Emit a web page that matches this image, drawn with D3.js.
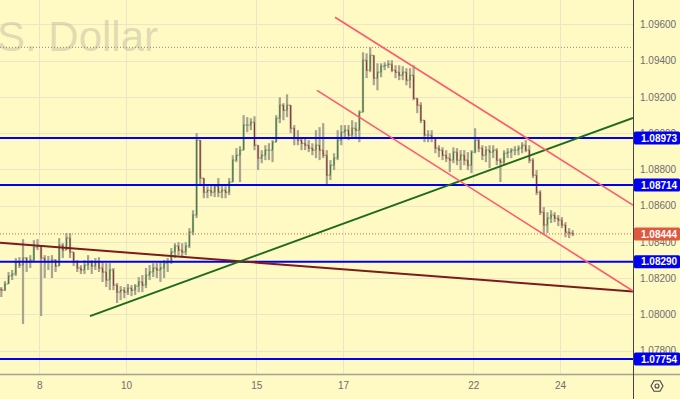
<!DOCTYPE html>
<html>
<head>
<meta charset="utf-8">
<script src="https://cdn.jsdelivr.net/npm/d3@7"></script>
<style>
  body { margin: 0; background: #fff9c4; }
  svg { display: block; font-family: "Liberation Sans", Arial, sans-serif; }
</style>
</head>
<body>
<svg id="chart" width="680" height="399"></svg>
<script>
// 2-hour bars, EURUSD
const highs = [
  1.08151, 1.08184, 1.08234, 1.08245, 1.08311, 1.08316, 1.08415, 1.08316, 1.08327, 1.08410,
  1.08415, 1.08366, 1.08327, 1.08322, 1.08327, 1.08305, 1.08421, 1.08393, 1.08449, 1.08449,
  1.08344, 1.08300, 1.08272, 1.08300, 1.08327, 1.08300, 1.08311, 1.08316, 1.08289, 1.08283,
  1.08283, 1.08256, 1.08173, 1.08156, 1.08151, 1.08168, 1.08162, 1.08168, 1.08206, 1.08217,
  1.08256, 1.08272, 1.08283, 1.08283, 1.08289, 1.08300, 1.08311, 1.08366, 1.08393, 1.08399,
  1.08393, 1.08399, 1.08476, 1.08575, 1.09000, 1.08867, 1.08741, 1.08707, 1.08713, 1.08719,
  1.08752, 1.08713, 1.08707, 1.08752, 1.08878, 1.08917, 1.08928, 1.09099, 1.09088, 1.09082,
  1.09093, 1.08933, 1.08906, 1.08933, 1.08944, 1.08961, 1.09099, 1.09198, 1.09165, 1.09214,
  1.09154, 1.09044, 1.09016, 1.08977, 1.08972, 1.08961, 1.08944, 1.09016, 1.09033, 1.09055,
  1.08906, 1.08851, 1.08889, 1.09016, 1.09044, 1.09044, 1.09044, 1.09071, 1.09060, 1.09126,
  1.09446, 1.09440, 1.09473, 1.09429, 1.09385, 1.09385, 1.09391, 1.09402, 1.09402, 1.09374,
  1.09374, 1.09369, 1.09358, 1.09358, 1.09374, 1.09192, 1.09170, 1.09071, 1.09016, 1.09016,
  1.08972, 1.08933, 1.08922, 1.08906, 1.08889, 1.08922, 1.08917, 1.08906, 1.08906, 1.08895,
  1.08906, 1.09027, 1.08972, 1.08933, 1.08928, 1.08933, 1.08933, 1.08917, 1.08862, 1.08906,
  1.08917, 1.08917, 1.08928, 1.08933, 1.08950, 1.08961, 1.08933, 1.08862, 1.08796, 1.08685,
  1.08592, 1.08564, 1.08575, 1.08564, 1.08548, 1.08537, 1.08509, 1.08476, 1.08465
];
const lows = [
  1.08096, 1.08129, 1.08173, 1.08190, 1.08212, 1.08256, 1.07947, 1.08234, 1.08256, 1.08289,
  1.08355, 1.07991, 1.08201, 1.08245, 1.08201, 1.08234, 1.08267, 1.08311, 1.08355, 1.08311,
  1.08267, 1.08234, 1.08223, 1.08223, 1.08245, 1.08223, 1.08245, 1.08234, 1.08179, 1.08151,
  1.08134, 1.08134, 1.08063, 1.08079, 1.08090, 1.08107, 1.08101, 1.08107, 1.08123, 1.08123,
  1.08145, 1.08190, 1.08206, 1.08201, 1.08179, 1.08201, 1.08234, 1.08278, 1.08311, 1.08327,
  1.08322, 1.08327, 1.08366, 1.08437, 1.08531, 1.08713, 1.08641, 1.08641, 1.08652, 1.08647,
  1.08647, 1.08641, 1.08641, 1.08658, 1.08730, 1.08840, 1.08730, 1.08906, 1.09005, 1.09016,
  1.08906, 1.08796, 1.08834, 1.08851, 1.08851, 1.08840, 1.08950, 1.09055, 1.09071, 1.09088,
  1.09000, 1.08933, 1.08933, 1.08906, 1.08906, 1.08895, 1.08878, 1.08862, 1.08851, 1.08862,
  1.08713, 1.08741, 1.08796, 1.08851, 1.08933, 1.08972, 1.08961, 1.08977, 1.08972, 1.08950,
  1.09115, 1.09303, 1.09336, 1.09264, 1.09236, 1.09308, 1.09347, 1.09358, 1.09336, 1.09303,
  1.09292, 1.09292, 1.09264, 1.09247, 1.09181, 1.09110, 1.09055, 1.08950, 1.08950, 1.08950,
  1.08889, 1.08867, 1.08851, 1.08840, 1.08785, 1.08834, 1.08823, 1.08796, 1.08823, 1.08796,
  1.08779, 1.08889, 1.08895, 1.08851, 1.08840, 1.08807, 1.08862, 1.08823, 1.08730, 1.08823,
  1.08862, 1.08862, 1.08878, 1.08878, 1.08889, 1.08895, 1.08834, 1.08752, 1.08658, 1.08548,
  1.08437, 1.08449, 1.08504, 1.08509, 1.08487, 1.08476, 1.08426, 1.08421, 1.08432
];
const closes = [
  1.08134, 1.08168, 1.08212, 1.08223, 1.08289, 1.08272, 1.08311, 1.08289, 1.08300, 1.08371,
  1.08377, 1.08311, 1.08289, 1.08289, 1.08300, 1.08267, 1.08382, 1.08355, 1.08421, 1.08344,
  1.08289, 1.08256, 1.08245, 1.08272, 1.08289, 1.08267, 1.08289, 1.08256, 1.08234, 1.08190,
  1.08245, 1.08162, 1.08123, 1.08134, 1.08123, 1.08145, 1.08134, 1.08156, 1.08179, 1.08162,
  1.08217, 1.08234, 1.08256, 1.08245, 1.08256, 1.08283, 1.08289, 1.08344, 1.08377, 1.08355,
  1.08344, 1.08377, 1.08454, 1.08548, 1.08961, 1.08752, 1.08674, 1.08685, 1.08674, 1.08707,
  1.08674, 1.08685, 1.08674, 1.08730, 1.08851, 1.08878, 1.08906, 1.09044, 1.09044, 1.09060,
  1.08933, 1.08862, 1.08878, 1.08906, 1.08906, 1.08950, 1.09082, 1.09154, 1.09126, 1.09154,
  1.09027, 1.08972, 1.08961, 1.08944, 1.08933, 1.08917, 1.08906, 1.08933, 1.08906, 1.08878,
  1.08768, 1.08823, 1.08862, 1.08961, 1.09005, 1.09016, 1.08989, 1.09027, 1.09016, 1.09115,
  1.09402, 1.09347, 1.09429, 1.09303, 1.09336, 1.09369, 1.09374, 1.09380, 1.09347, 1.09336,
  1.09319, 1.09336, 1.09292, 1.09319, 1.09192, 1.09154, 1.09071, 1.08989, 1.08989, 1.08972,
  1.08917, 1.08906, 1.08878, 1.08862, 1.08851, 1.08895, 1.08851, 1.08878, 1.08851, 1.08823,
  1.08895, 1.08961, 1.08917, 1.08878, 1.08906, 1.08895, 1.08906, 1.08851, 1.08840, 1.08889,
  1.08895, 1.08906, 1.08906, 1.08917, 1.08933, 1.08906, 1.08851, 1.08768, 1.08674, 1.08564,
  1.08493, 1.08531, 1.08548, 1.08531, 1.08520, 1.08493, 1.08454, 1.08449, 1.08444
];
const firstOpen = 1.08140;
const barsPerDay = 12;
const firstBarOffset = -10.5;  // first bar sits 10.5 bars before the start of day 8

// trading-day index: 0 = 8th, 2 = 10th, 5 = 15th ...
const dayTicks = [0, 2, 5, 7, 10, 12];
const dayLabels = ["8", "10", "15", "17", "22", "24"];
const priceTicks = [1.078, 1.080, 1.082, 1.084, 1.086, 1.088, 1.090, 1.092, 1.094, 1.096];

const levels = [1.08973, 1.08714, 1.08290, 1.07754];
const lastPrice = 1.08444;
const sessionHigh = 1.09473;

// [trading day, price] end points
const supportLine = [[1.168, 1.07991], [13.68, 1.09084]];
const longTrend = [[-0.906, 1.08395], [13.68, 1.08126]];
const channelTop = [[6.813, 1.09639], [13.68, 1.08603]];
const channelBottom = [[6.399, 1.09236], [13.68, 1.08129]];

const svg = d3.select("#chart");
const W = 680, H = 399, plotW = 633, plotH = 374;

const x = d3.scaleLinear().domain([-0.9055, 13.68]).range([0, plotW]);
const y = d3.scaleLinear().domain([1.078, 1.096]).range([350.7, 24.3]);

svg.append("rect").attr("width", W).attr("height", H).attr("fill", "#fff9c4");

svg.append("defs").append("clipPath").attr("id", "plot")
  .append("rect").attr("width", plotW).attr("height", plotH);

// grid
const grid = svg.append("g").attr("stroke", "#ece6c6").attr("stroke-width", 1);
grid.selectAll("line.h").data(priceTicks).join("line")
  .attr("x1", 0).attr("x2", plotW)
  .attr("y1", d => Math.round(y(d)) + 0.5).attr("y2", d => Math.round(y(d)) + 0.5);
grid.selectAll("line.v").data(dayTicks).join("line")
  .attr("y1", 0).attr("y2", plotH)
  .attr("x1", d => Math.round(x(d)) + 0.5).attr("x2", d => Math.round(x(d)) + 0.5);

// watermark
svg.append("text")
  .attr("x", 158).attr("y", 51)
  .attr("text-anchor", "end")
  .attr("font-size", 42)
  .attr("fill", "#b9b59c").attr("fill-opacity", 0.45)
  .text("Euro / U.S. Dollar");

const plot = svg.append("g").attr("clip-path", "url(#plot)");

// session high dotted line
plot.append("line")
  .attr("x1", 0).attr("x2", plotW)
  .attr("y1", y(sessionHigh)).attr("y2", y(sessionHigh))
  .attr("stroke", "#8a8a80").attr("stroke-width", 1).attr("stroke-dasharray", "1,2");

// bars
const bars = closes.map((c, i) => ({
  t: (i + firstBarOffset) / barsPerDay,
  o: i === 0 ? firstOpen : closes[i - 1],
  h: highs[i], l: lows[i], c: c
}));

const barG = plot.append("g");
barG.selectAll("line.hl").data(bars).join("line")
  .attr("x1", d => x(d.t)).attr("x2", d => x(d.t))
  .attr("y1", d => y(Math.max(d.h, d.o, d.c))).attr("y2", d => y(Math.min(d.l, d.o, d.c)))
  .attr("stroke", "#a7a590").attr("stroke-width", 2.2);
barG.selectAll("line.oc").data(bars).join("line")
  .attr("x1", d => x(d.t)).attr("x2", d => x(d.t))
  .attr("y1", d => y(d.o)).attr("y2", d => y(d.c) + (d.c >= d.o ? -0.5 : 0.5))
  .attr("stroke", d => d.c >= d.o ? "#3d7a3a" : "#8c2f2a").attr("stroke-width", 1);
barG.selectAll("line.op").data(bars).join("line")
  .attr("x1", d => x(d.t) - 1.6).attr("x2", d => x(d.t))
  .attr("y1", d => y(d.o)).attr("y2", d => y(d.o))
  .attr("stroke", d => d.c >= d.o ? "#6f9a68" : "#a86a5f").attr("stroke-width", 1);
barG.selectAll("line.cl").data(bars).join("line")
  .attr("x1", d => x(d.t)).attr("x2", d => x(d.t) + 1.6)
  .attr("y1", d => y(d.c)).attr("y2", d => y(d.c))
  .attr("stroke", d => d.c >= d.o ? "#6f9a68" : "#a86a5f").attr("stroke-width", 1);

// current price dotted line
plot.append("line")
  .attr("x1", 0).attr("x2", plotW)
  .attr("y1", y(lastPrice)).attr("y2", y(lastPrice))
  .attr("stroke", "#e8604c").attr("stroke-width", 1).attr("stroke-dasharray", "1,2");

// horizontal levels
plot.selectAll("line.level").data(levels).join("line")
  .attr("x1", 0).attr("x2", plotW)
  .attr("y1", d => y(d)).attr("y2", d => y(d))
  .attr("stroke", "#0000f0").attr("stroke-width", 2);

// trend lines
function drawTrend(pts, color, width) {
  plot.append("line")
    .attr("x1", x(pts[0][0])).attr("y1", y(pts[0][1]))
    .attr("x2", x(pts[1][0])).attr("y2", y(pts[1][1]))
    .attr("stroke", color).attr("stroke-width", width);
}
drawTrend(longTrend, "#7a1c1c", 2);
drawTrend(supportLine, "#1e6b1e", 2);
drawTrend(channelTop, "#ff5a6a", 1.6);
drawTrend(channelBottom, "#ff5a6a", 1.6);

// axes frame
svg.append("line").attr("x1", 0).attr("x2", W).attr("y1", plotH + 0.5).attr("y2", plotH + 0.5)
  .attr("stroke", "#a4a290").attr("stroke-width", 1.5);
svg.append("line").attr("x1", plotW + 0.5).attr("x2", plotW + 0.5).attr("y1", 0).attr("y2", H)
  .attr("stroke", "#444").attr("stroke-width", 1);

// price axis
const yAxis = svg.append("g")
  .attr("transform", `translate(${plotW},0)`)
  .call(d3.axisRight(y).tickValues(priceTicks).tickFormat(d3.format(".5f")).tickSize(0).tickPadding(7));
yAxis.select(".domain").remove();
yAxis.selectAll("text").attr("fill", "#6e6e6e").attr("font-size", 10)
  .attr("font-family", "'Liberation Sans', Arial, sans-serif");

// time axis
const xAxis = svg.append("g")
  .attr("transform", `translate(0,${plotH})`)
  .call(d3.axisBottom(x).tickValues(dayTicks).tickFormat((d, i) => dayLabels[i]).tickSize(0).tickPadding(8));
xAxis.select(".domain").remove();
xAxis.selectAll("text").attr("fill", "#6e6e6e").attr("font-size", 10)
  .attr("font-family", "'Liberation Sans', Arial, sans-serif");

// price tags
function tag(value, fill) {
  const g = svg.append("g").attr("transform", `translate(${plotW + 1},${y(value)})`);
  g.append("rect").attr("x", 0).attr("y", -6.5).attr("width", W - plotW - 1).attr("height", 13)
    .attr("rx", 1.5).attr("fill", fill);
  g.append("text").attr("x", 7).attr("y", 3.6).attr("font-size", 10)
    .attr("font-weight", "bold").attr("fill", "#fff").text(d3.format(".5f")(value));
}
levels.forEach(v => tag(v, "#0000f0"));
tag(lastPrice, "#e0583e");

// settings icon
const icon = svg.append("g").attr("transform", "translate(657,386)")
  .attr("fill", "none").attr("stroke", "#444").attr("stroke-width", 1.1);
icon.append("path").attr("d", d3.range(6).map((k, i) => {
  const a = Math.PI / 3 * k;
  return (i ? "L" : "M") + (6 * Math.cos(a)).toFixed(2) + "," + (6 * Math.sin(a)).toFixed(2);
}).join("") + "Z");
icon.append("circle").attr("r", 2);
</script>
</body>
</html>
